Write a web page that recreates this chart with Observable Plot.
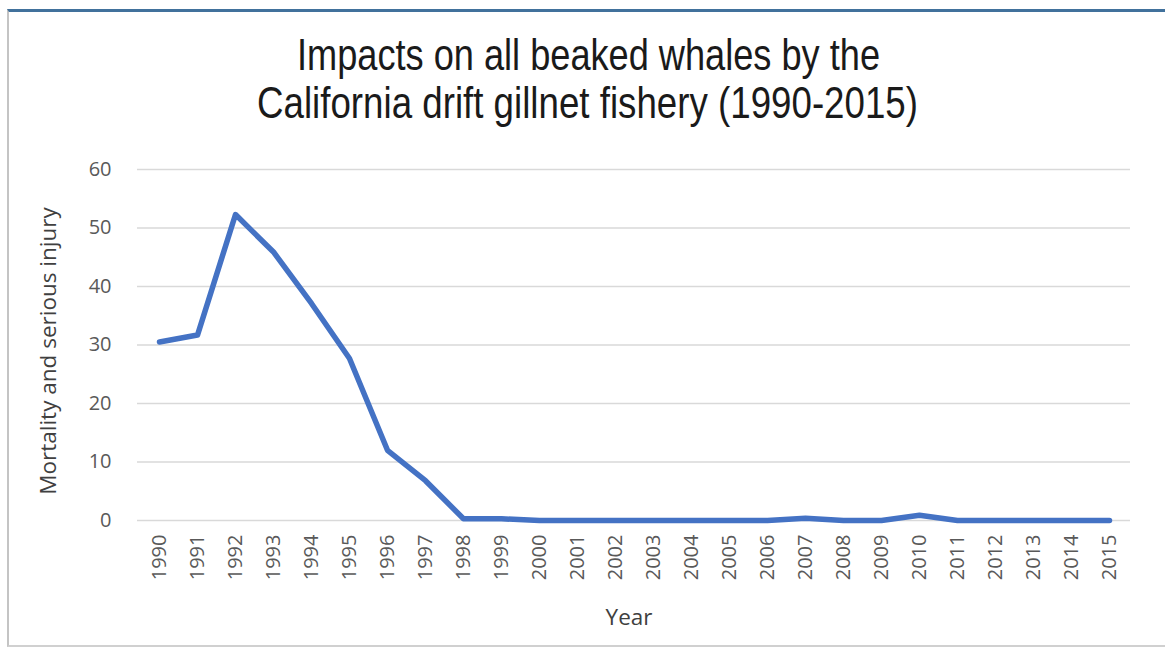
<!DOCTYPE html>
<html>
<head>
<meta charset="utf-8">
<script src="https://cdn.jsdelivr.net/npm/d3@7"></script>
<script src="https://cdn.jsdelivr.net/npm/@observablehq/plot@0.6"></script>
<style>
  html, body { margin: 0; padding: 0; background: #fff; }
  body { width: 1165px; height: 654px; position: relative; overflow: hidden; }
  #frame { position: absolute; left: 7px; top: 9px; width: 1170px; height: 638px;
           border-top: 3px solid #41719c; border-left: 2px solid #c4c4c4; border-bottom: 2px solid #d0d0d0; box-sizing: border-box; }
  #title { position: absolute; left: 0; top: 0; width: 1165px; height: 150px;
           font-family: "Liberation Sans", Arial, sans-serif; font-size: 44px; color: #1a1a1a; }
  #title .line { position: absolute; white-space: nowrap; line-height: 1; transform-origin: 0 0; }
  #chart { position: absolute; left: 0; top: 150px; }
</style>
</head>
<body>
<div id="frame"></div>
<div id="title"></div>
<div id="chart"></div>
<script>
const titleLines = ["Impacts on all beaked whales by the", "California drift gillnet fishery (1990-2015)"];
const years = ["1990","1991","1992","1993","1994","1995","1996","1997","1998","1999","2000","2001","2002","2003","2004","2005","2006","2007","2008","2009","2010","2011","2012","2013","2014","2015"];
const mortality = [30.5, 31.7, 52.3, 45.9, 37.1, 27.7, 12.0, 6.8, 0.3, 0.3, 0, 0, 0, 0, 0, 0, 0, 0.4, 0, 0, 0.9, 0, 0, 0, 0, 0];
const yTicks = [0, 10, 20, 30, 40, 50, 60];
const yLabel = "Mortality and serious injury";
const xLabel = "Year";

// Title: condensed look by horizontal scaling to the reference widths
const titleBox = document.getElementById("title");
const titleSpecs = [{left: 297, width: 583, top: 33}, {left: 257, width: 661, top: 81}];
titleLines.forEach((t, i) => {
  const s = document.createElement("span");
  s.className = "line";
  s.textContent = t;
  titleBox.appendChild(s);
  const w = s.getBoundingClientRect().width;
  const k = titleSpecs[i].width / w;
  s.style.left = titleSpecs[i].left + "px";
  s.style.top = titleSpecs[i].top + "px";
  s.style.transform = `scaleX(${k})`;
});

const data = years.map((y, i) => ({year: y, value: mortality[i]}));

const chart = Plot.plot({
  width: 1165,
  height: 504,
  marginLeft: 137,
  marginRight: 35,
  marginTop: 19,
  marginBottom: 134,
  style: { fontFamily: "'Open Sans', sans-serif", fontSize: "20px", color: "#595959", background: "transparent" },
  x: { type: "point", domain: years, padding: 0.5 },
  y: { domain: [0, 60] },
  marks: [
    Plot.ruleY(yTicks, { stroke: "#d9d9d9", strokeWidth: 1.5 }),
    Plot.axisY({ ticks: yTicks, tickSize: 0, tickPadding: 26, label: null, fill: "#595959" }),
    Plot.axisX({ tickSize: 0, tickRotate: -90, tickPadding: 14, label: null, fill: "#595959" }),
    Plot.line(data, { x: "year", y: "value", stroke: "#4472C4", strokeWidth: 5.5, strokeLinejoin: "round", strokeLinecap: "round" }),
    Plot.text([yLabel], { frameAnchor: "left", textAnchor: "middle", dx: -89, dy: 6, rotate: -90, fill: "#404040", fontSize: 22.5 }),
    Plot.text([xLabel], { frameAnchor: "bottom", dy: 104, dx: -5, fill: "#404040", fontSize: 22.5 })
  ]
});
document.getElementById("chart").appendChild(chart);
</script>
</body>
</html>
